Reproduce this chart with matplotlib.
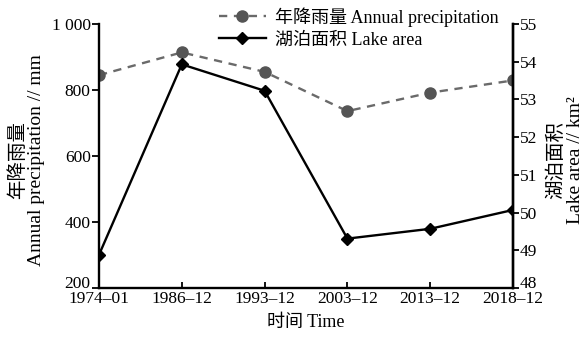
import matplotlib
matplotlib.use('Agg')
import matplotlib.pyplot as plt
from matplotlib.transforms import ScaledTranslation

plt.rcParams['font.family'] = ['Liberation Serif', 'Noto Sans CJK SC']

# data
dates = ['1974–01', '1986–12', '1993–12', '2003–12', '2013–12', '2018–12']
precip = [845, 914, 855, 736, 792, 829]          # mm
lake_area = [48.88, 53.93, 53.23, 49.31, 49.57, 50.07]  # km2
precip_ticks = [200, 400, 600, 800, 1000]
precip_labels = ['200', '400', '600', '800', '1 000']
area_ticks = [48, 49, 50, 51, 52, 53, 54, 55]

x = list(range(len(dates)))

fig = plt.figure(figsize=(5.8, 3.43), dpi=100)
ax = fig.add_axes([0.1707, 0.1603, 0.7138, 0.7697])
ax2 = ax.twinx()

l1, = ax.plot(x, precip, ls='--', color='#6a6a6a', lw=1.7, marker='o',
              ms=8, mfc='#555555', mec='#555555', dashes=(3.5, 2.8),
              label='年降雨量 Annual precipitation')
l2, = ax2.plot(x, lake_area, ls='-', color='black', lw=1.7, marker='D',
               ms=6, mfc='black', mec='black', label='湖泊面积 Lake area')

ax.set_xlim(0, len(dates) - 1)
ax.set_ylim(200, 1000)
ax2.set_ylim(48, 55)

ax.set_xticks(x)
ax.set_xticklabels(dates)
ax.set_yticks(precip_ticks)
ax.set_yticklabels(precip_labels)
ax2.set_yticks(area_ticks)

for a in (ax, ax2):
    a.spines['top'].set_visible(False)
    for s in a.spines.values():
        s.set_linewidth(1.7)

ax2.spines['left'].set_visible(False)
ax2.spines['bottom'].set_visible(False)

ax.tick_params(axis='x', direction='in', length=4, width=1.3, labelsize=12.5, pad=2)
ax.tick_params(axis='y', direction='out', length=5, width=1.3, labelsize=12.5, pad=1)
ax2.tick_params(axis='y', direction='out', length=4, width=1.3, labelsize=12.5, pad=1)

# lowest y labels sit a little above the x axis so they clear the dates
lift = ScaledTranslation(0, 4.5 / 72, fig.dpi_scale_trans)
for lab in (ax.get_yticklabels()[0], ax2.get_yticklabels()[0]):
    lab.set_transform(lab.get_transform() + lift)

ax.set_xlabel('时间 Time', fontsize=13, labelpad=5)

fig.text(0.0457, 0.534, '年降雨量\nAnnual precipitation // mm', fontsize=14,
         rotation=90, ha='center', va='center', linespacing=1.1,
         multialignment='center')
# right-hand label sits partly outside the figure, as in the original
fig.text(0.9745, 0.534, '湖泊面积\nLake area // km²', fontsize=14,
         rotation=90, ha='center', va='center', linespacing=1.1,
         multialignment='center')

fig.legend(handles=[l1, l2], loc='upper left', bbox_to_anchor=(0.365, 1.0),
           frameon=False, fontsize=13, handlelength=2.6, labelspacing=0.25,
           handletextpad=0.5, borderaxespad=0)

fig.savefig('out.png', dpi=100)
